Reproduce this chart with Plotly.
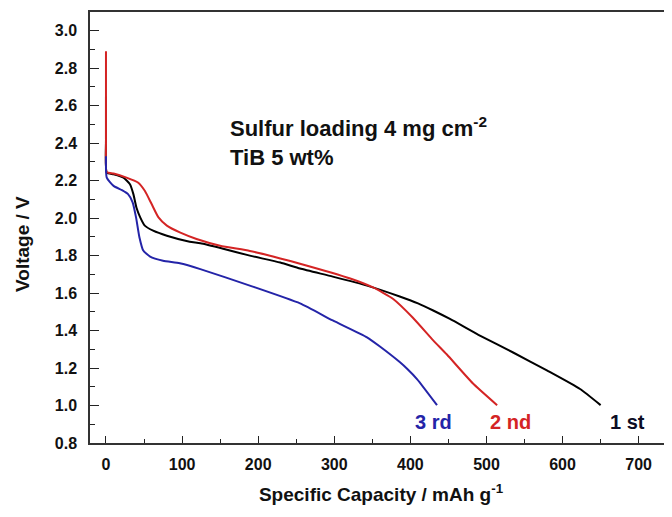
import plotly.graph_objects as go

# ---- data ----
cap_1st = [0, 0, 1, 10, 23, 31.5, 36, 40, 45, 51, 62, 80, 110, 124, 154, 189, 229, 255, 298, 343, 386, 410, 430, 452, 492, 535, 580, 623, 650]
volt_1st = [2.65, 2.42, 2.243, 2.234, 2.216, 2.181, 2.128, 2.057, 2.004, 1.960, 1.933, 1.906, 1.874, 1.866, 1.837, 1.80, 1.763, 1.731, 1.688, 1.640, 1.582, 1.545, 1.507, 1.462, 1.372, 1.283, 1.186, 1.088, 1.002]

cap_2nd = [0, 0, 1, 10, 27, 42, 51, 60, 69, 80, 97, 119, 150, 189, 229, 255, 321, 351, 377, 403, 430, 448, 482, 514]
volt_2nd = [2.89, 2.40, 2.245, 2.238, 2.216, 2.19, 2.146, 2.075, 2.004, 1.960, 1.924, 1.889, 1.853, 1.825, 1.785, 1.757, 1.678, 1.630, 1.570, 1.470, 1.348, 1.272, 1.119, 1.002]

cap_3rd = [0, 1, 10, 21, 29, 35, 39.5, 44, 49, 58, 75, 97, 124, 189, 255, 298, 343, 360, 386, 396, 409, 435]
volt_3rd = [2.33, 2.216, 2.172, 2.149, 2.128, 2.084, 2.004, 1.897, 1.827, 1.795, 1.773, 1.759, 1.728, 1.640, 1.545, 1.454, 1.364, 1.315, 1.232, 1.195, 1.140, 1.002]

series_names = ["1 st", "2 nd", "3 rd"]
series_colors = ["#000000", "#d42424", "#2424a8"]
label_x = [685, 532, 431]
label_y = [0.912, 0.912, 0.912]
label_colors = ["#0c0c24", "#d42424", "#2424a8"]

x_ticks = [0, 100, 200, 300, 400, 500, 600, 700]
y_ticks = [0.8, 1.0, 1.2, 1.4, 1.6, 1.8, 2.0, 2.2, 2.4, 2.6, 2.8, 3.0]

FONT = "Arial, Liberation Sans, sans-serif"

fig = go.Figure()
for xs, ys, name, col in zip([cap_1st, cap_2nd, cap_3rd], [volt_1st, volt_2nd, volt_3rd], series_names, series_colors):
    fig.add_trace(go.Scatter(x=xs, y=ys, mode="lines", name=name,
                             line=dict(color=col, width=2, shape="spline", smoothing=0.5)))

for name, lx, ly, lc in zip(series_names, label_x, label_y, label_colors):
    fig.add_annotation(x=lx, y=ly, text=name, showarrow=False, xanchor="center", yanchor="middle",
                       font=dict(family=FONT, size=20, color=lc, weight="bold"))

fig.add_annotation(x=160, y=2.41, text="Sulfur loading 4 mg cm<sup>-2</sup><br>TiB 5 wt%",
                   showarrow=False, xanchor="left", yanchor="middle", align="left",
                   font=dict(family=FONT, size=22, color="#111111", weight="bold"))

# y-axis title (sits slightly below the centre of the axis in the reference)
fig.add_annotation(xref="paper", yref="paper", x=-0.115, y=0.462, text="Voltage / V",
                   textangle=-90, showarrow=False, xanchor="center", yanchor="middle",
                   font=dict(family=FONT, size=19, color="#111", weight="bold"))

# the page adds an 8px body margin, so the figure is sized to fit the window
fig.update_layout(
    width=664, height=509,
    margin=dict(l=82, r=0, t=4, b=74),
    paper_bgcolor="white", plot_bgcolor="white",
    showlegend=False,
    font=dict(family=FONT, color="#111111"),
)
fig.update_xaxes(
    range=[-21, 743.8], tickvals=x_ticks, ticks="inside", ticklen=7, tickwidth=1.3, tickcolor="#222",
    minor=dict(ticks="inside", ticklen=4, dtick=50, tick0=0, tickcolor="#222", tickwidth=1.2),
    showline=True, linecolor="#333", linewidth=1.5, mirror=True, showgrid=False, zeroline=False,
    tickfont=dict(family=FONT, size=16, color="#111", weight="bold"), ticklabelstandoff=6,
    automargin=False,
    title=dict(text="Specific Capacity / mAh g<sup>-1</sup>", standoff=16,
               font=dict(family=FONT, size=19, color="#111", weight="bold")),
)
fig.update_yaxes(
    range=[0.8, 3.1], tickvals=y_ticks, tickformat=".1f", ticks="inside", ticklen=9, tickwidth=1.3, tickcolor="#222",
    minor=dict(ticks="inside", ticklen=5, dtick=0.1, tick0=0.8, tickcolor="#222", tickwidth=1.2),
    showline=True, linecolor="#333", linewidth=1.5, mirror=False, showgrid=False, zeroline=False,
    tickfont=dict(family=FONT, size=16, color="#111", weight="bold"), ticklabelstandoff=8,
    automargin=False,
)

fig.write_html("out.html")
